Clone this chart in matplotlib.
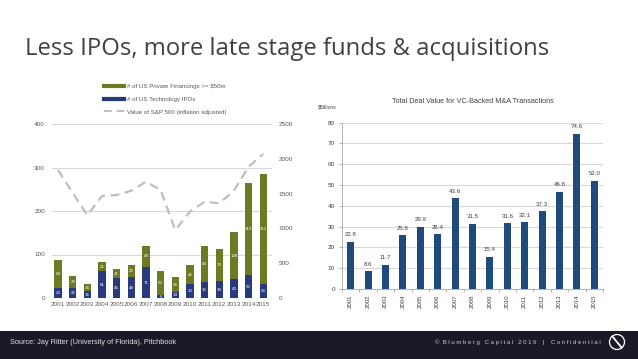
import matplotlib
matplotlib.use("Agg")
import matplotlib.pyplot as plt
import numpy as np
from matplotlib.lines import Line2D
from matplotlib.patches import Rectangle, Ellipse

years = ["2001", "2002", "2003", "2004", "2005", "2006", "2007", "2008",
         "2009", "2010", "2011", "2012", "2013", "2014", "2015"]
tech_ipos = [23, 22, 16, 61, 45, 48, 71, 6, 14, 33, 36, 39, 43, 52, 33]
private_fin = [64, 28, 16, 21, 21, 29, 49, 56, 34, 42, 83, 74, 108, 213, 252]
sp500 = [1840, 1510, 1190, 1466, 1480, 1541, 1671, 1552, 977, 1240, 1384, 1360, 1541, 1886, 2069]
ma_value = [22.8, 8.6, 11.7, 25.8, 29.9, 26.4, 43.6, 31.5, 15.4, 31.6, 32.1, 37.3, 46.8, 74.6, 52.0]

OLIVE = "#6B7A23"
NAVY = "#27397F"
BAR_BLUE = "#1F4A7E"
GRID = "#D9D9D9"
TXT = "#595959"

plt.rcParams["font.family"] = ["Liberation Sans", "DejaVu Sans"]

fig = plt.figure(figsize=(6.38, 3.59), dpi=100)
W, H = 638, 359


def fx(px):
    return px / W


def fy(py):
    return 1 - py / H


# title
fig.text(fx(25), fy(55), "Less IPOs, more late stage funds & acquisitions",
         fontsize=17.2, color="#404040", family=["Open Sans", "DejaVu Sans"], va="baseline")

# ---- left chart ----
x = np.arange(len(years))
ax = fig.add_axes([fx(52), fy(298), fx(272) - fx(52), fy(124) - fy(298)])
ax.bar(x, tech_ipos, width=0.5, color=NAVY, zorder=3)
ax.bar(x, private_fin, width=0.5, bottom=tech_ipos, color=OLIVE, zorder=3)
for i in range(len(years)):
    ax.text(x[i], tech_ipos[i] / 2, str(tech_ipos[i]), ha="center", va="center",
            fontsize=3.2, color="white", zorder=4)
    ax.text(x[i], tech_ipos[i] + private_fin[i] / 2, str(private_fin[i]), ha="center", va="center",
            fontsize=3.2, color="white", zorder=4)
ax.set_xlim(-0.41, 14.6)
ax.set_ylim(0, 400)
ax.set_yticks([0, 100, 200, 300, 400])
ax.set_xticks(x)
ax.set_xticklabels(years)
ax.grid(axis="y", color=GRID, lw=0.8, zorder=0)
for s in ax.spines.values():
    s.set_visible(False)
ax.tick_params(axis="both", length=0, labelsize=4.6, colors=TXT)
ax.tick_params(axis="y", pad=5)
ax.tick_params(axis="x", pad=3)

ax2 = ax.twinx()
ax2.plot(x, sp500, color="#BFBFBF", lw=1.6, ls=(0, (4, 2.5)), zorder=5)
ax2.set_ylim(0, 2500)
ax2.set_yticks([0, 500, 1000, 1500, 2000, 2500])
for s in ax2.spines.values():
    s.set_visible(False)
ax2.tick_params(axis="y", length=0, labelsize=4.6, colors=TXT, pad=5)

handles = [
    Line2D([], [], color=OLIVE, lw=3),
    Line2D([], [], color=NAVY, lw=3),
    Line2D([], [], color="#BFBFBF", lw=1.4, ls=(0, (4, 2.5))),
]
labels = ["# of US Private Financings >= $50m", "# of US Technology IPOs",
          "Value of S&P 500 (inflation adjusted)"]
fig.legend(handles, labels, loc="upper left", bbox_to_anchor=(fx(98), fy(78)),
           frameon=False, fontsize=4.4, labelcolor=TXT, handlelength=3.3,
           handletextpad=0.6, labelspacing=1.25)

# ---- right chart ----
bx = fig.add_axes([fx(342), fy(289), fx(603) - fx(342), fy(122.7) - fy(289)])
bx.bar(x, ma_value, width=0.4, color=BAR_BLUE, zorder=3)
for i, v in enumerate(ma_value):
    bx.text(x[i], v + 2.2, f"{v:.1f}", ha="center", va="bottom", fontsize=4.4, color="#404040")
bx.set_xlim(-0.4, 14.46)
bx.set_ylim(0, 80)
bx.set_yticks(range(0, 81, 10))
bx.set_xticks(np.arange(len(years) + 1) - 0.5, minor=True)
bx.set_xticks(x)
bx.set_xticklabels(years, rotation=90)
bx.grid(axis="y", color=GRID, lw=0.8, zorder=0)
for k in ["top", "right"]:
    bx.spines[k].set_visible(False)
bx.spines["left"].set_color("#A6A6A6")
bx.spines["bottom"].set_color("#A6A6A6")
bx.spines["left"].set_linewidth(0.6)
bx.spines["bottom"].set_linewidth(0.6)
bx.tick_params(axis="x", which="major", length=0, labelsize=4.4, colors="#404040", pad=4)
bx.tick_params(axis="x", which="minor", length=2, color="#A6A6A6", width=0.6)
bx.tick_params(axis="y", length=2, color="#A6A6A6", width=0.6, labelsize=4.6, colors="#404040", pad=3)
bx.set_title("Total Deal Value for VC-Backed M&A Transactions", fontsize=5.2, color="#404040", pad=14)
fig.text(fx(318), fy(107), "$Billions", fontsize=3.6, color="#404040", va="center")

# ---- footer ----
fig.patches.append(Rectangle((0, 0), 1, fy(331), transform=fig.transFigure,
                             facecolor="#1A1928", edgecolor="none", zorder=0))
fig.text(fx(10), fy(342), "Source: Jay Ritter (University of Florida), Pitchbook",
         fontsize=5.3, color="#E0E0E0", va="center")
fig.text(fx(601), fy(342), "\u00a9  B l u m b e r g   C a p i t a l   2 0 1 6    |    C o n f i d e n t i a l",
         fontsize=4.3, color="#CFCFCF", va="center", ha="right")
fig.patches.append(Ellipse((fx(617), fy(342)), 15 / W, 15 / H, transform=fig.transFigure,
                           facecolor="none", edgecolor="white", lw=0.9))
fig.lines.append(Line2D([fx(612.5), fx(621.5)], [fy(336.5), fy(347.5)], transform=fig.transFigure,
                        color="white", lw=1.3))

fig.savefig("out.png", dpi=100)
